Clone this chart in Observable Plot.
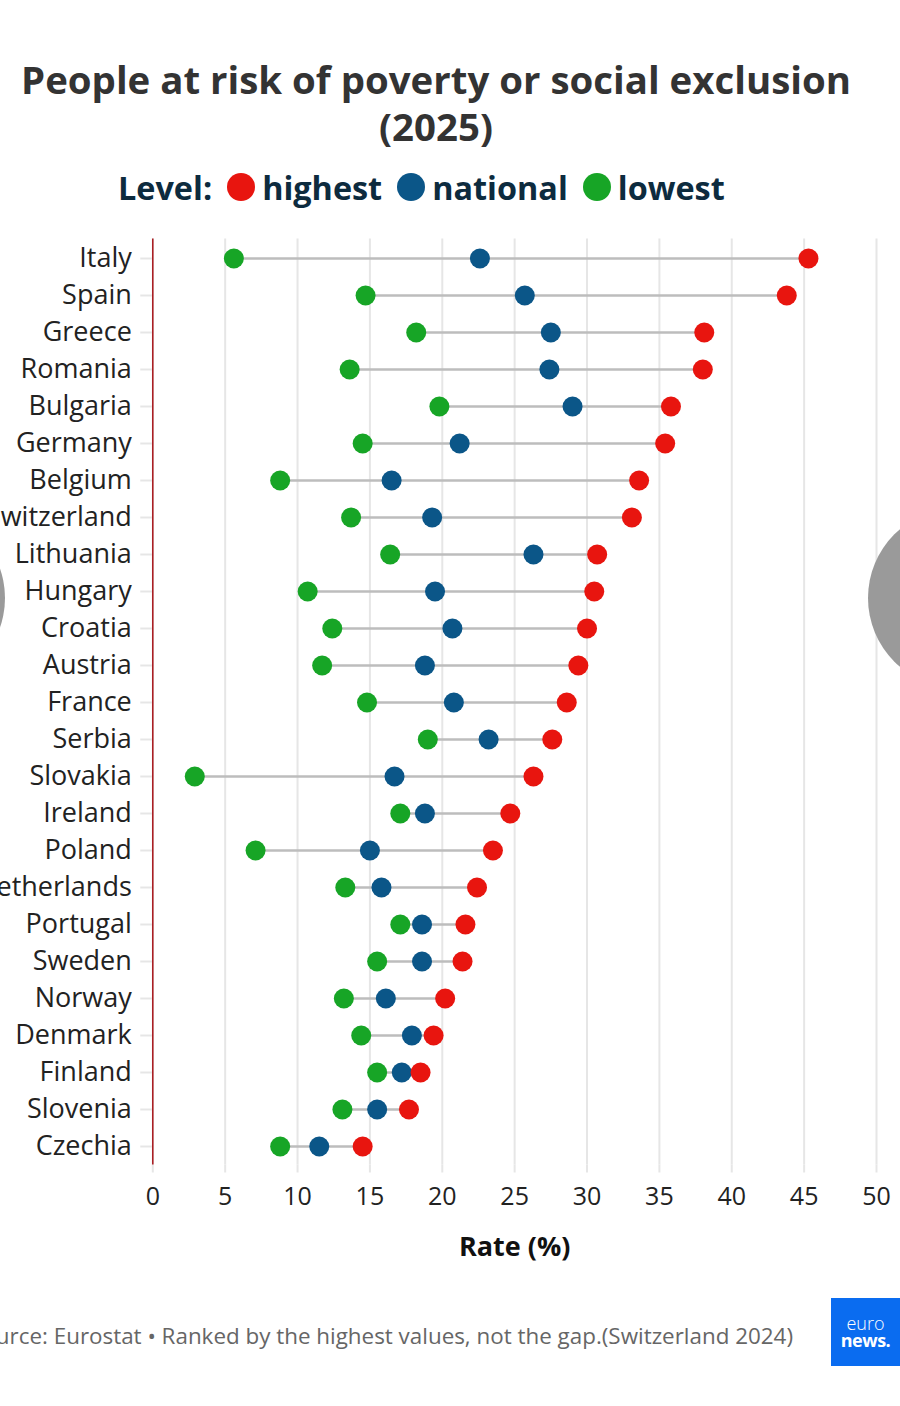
<!DOCTYPE html>
<html>
<head>
<meta charset="utf-8">
<script src="https://cdn.jsdelivr.net/npm/d3@7"></script>
<script src="https://cdn.jsdelivr.net/npm/@observablehq/plot@0.6"></script>
<style>
  html, body { margin: 0; padding: 0; background: #fff; }
  body { width: 900px; height: 1406px; position: relative; overflow: hidden; font-family: "Open Sans", sans-serif; }
  .title { position: absolute; left: 0; top: 56px; width: 872px; text-align: center; font-weight: 700; font-size: 38.4px; line-height: 47px; color: #333; white-space: nowrap; }
  .legend { position: absolute; left: 118px; top: 166px; height: 42px; display: flex; align-items: center; font-weight: 700; font-size: 32.4px; color: #0d2b3e; white-space: nowrap; }
  .legend .sw { display: inline-block; width: 28px; height: 28px; border-radius: 50%; margin: 0 7px 0 15px; }
  #chart { position: absolute; left: 0; top: 230px; }
  .caption { position: absolute; right: 107px; top: 1320px; font-size: 22.4px; color: #666; white-space: nowrap; }
  .logo { position: absolute; left: 831px; top: 1298px; width: 69px; height: 68px; background: #0a6cf0; color: #fff; display: flex; flex-direction: column; justify-content: center; align-items: center; line-height: 17px; font-size: 18px; }
  .logo .a { font-weight: 300; }
  .logo .b { font-weight: 700; letter-spacing: -0.5px; }
  .nav { position: absolute; width: 180px; height: 180px; border-radius: 50%; background: #9a9a9a; }
</style>
</head>
<body>
<div class="title">People at risk of poverty or social exclusion<br>(2025)</div>
<div class="legend" id="legend"></div>
<div id="chart"></div>
<div class="caption">Source: Eurostat • Ranked by the highest values, not the gap.(Switzerland 2024)</div>
<div class="logo"><span class="a">euro</span><span class="b">news.</span></div>
<div class="nav" style="left:-175px; top:508px;"></div>
<div class="nav" style="left:868px; top:508px;"></div>
<script>
// Countries ranked by the highest regional rate
const countries = ["Italy", "Spain", "Greece", "Romania", "Bulgaria", "Germany", "Belgium", "Switzerland",
  "Lithuania", "Hungary", "Croatia", "Austria", "France", "Serbia", "Slovakia", "Ireland", "Poland",
  "Netherlands", "Portugal", "Sweden", "Norway", "Denmark", "Finland", "Slovenia", "Czechia"];

// At-risk-of-poverty-or-social-exclusion rate (%)
const highest  = [45.3, 43.8, 38.1, 38.0, 35.8, 35.4, 33.6, 33.1, 30.7, 30.5, 30.0, 29.4, 28.6, 27.6, 26.3, 24.7, 23.5, 22.4, 21.6, 21.4, 20.2, 19.4, 18.5, 17.7, 14.5];
const national = [22.6, 25.7, 27.5, 27.4, 29.0, 21.2, 16.5, 19.3, 26.3, 19.5, 20.7, 18.8, 20.8, 23.2, 16.7, 18.8, 15.0, 15.8, 18.6, 18.6, 16.1, 17.9, 17.2, 15.5, 11.5];
const lowest   = [5.6, 14.7, 18.2, 13.6, 19.8, 14.5, 8.8, 13.7, 16.4, 10.7, 12.4, 11.7, 14.8, 19.0, 2.9, 17.1, 7.1, 13.3, 17.1, 15.5, 13.2, 14.4, 15.5, 13.1, 8.8];

const levels = ["highest", "national", "lowest"];
const levelColors = ["#e8150f", "#0b5688", "#17a526"];
const xTicks = [0, 5, 10, 15, 20, 25, 30, 35, 40, 45, 50];

// Legend
const legend = document.getElementById("legend");
legend.innerHTML = `<span>Level:</span>` + levels.map((l, i) =>
  `<span class="sw" style="background:${levelColors[i]}"></span><span>${l}</span>`).join("");

const rows = countries.map((country, i) => ({
  country, highest: highest[i], national: national[i], lowest: lowest[i]
}));
// lowest drawn first, highest on top
const points = levels.slice().reverse().flatMap(level =>
  rows.map(r => ({country: r.country, level, value: r[level]})));

const chart = Plot.plot({
  width: 900,
  height: 1040,
  marginTop: 8.5,
  marginBottom: 105.5,
  marginLeft: 152.3,
  marginRight: 24,
  style: {fontFamily: "Open Sans, sans-serif", background: "transparent", color: "#222"},
  x: {domain: [0, 50], label: null},
  y: {type: "point", domain: countries, padding: 0.5, label: null},
  color: {domain: levels, range: levelColors},
  marks: [
    Plot.gridX(xTicks, {stroke: "#e6e6e6", strokeOpacity: 1, strokeWidth: 2}),
    Plot.axisX(xTicks, {tickSize: 8, tickPadding: 14, stroke: "#e6e6e6", strokeWidth: 2, fill: "#222", fontSize: 25, label: null}),
    Plot.axisY({tickSize: 12, tickPadding: 9, stroke: "#e6e6e6", strokeWidth: 2, fill: "#222", fontSize: 27, label: null}),
    Plot.ruleX([0], {stroke: "#a8161b", strokeWidth: 1.5}),
    Plot.link(rows, {x1: "lowest", x2: "highest", y1: "country", y2: "country", stroke: "#bdbdbd", strokeWidth: 2.5}),
    Plot.dot(points, {x: "value", y: "country", fill: "level", r: 10, stroke: "none"}),
    Plot.text(["Rate (%)"], {frameAnchor: "bottom", dy: 91, fontSize: 27, fontWeight: "bold", fill: "#111"})
  ]
});
document.getElementById("chart").appendChild(chart);
</script>
</body>
</html>
